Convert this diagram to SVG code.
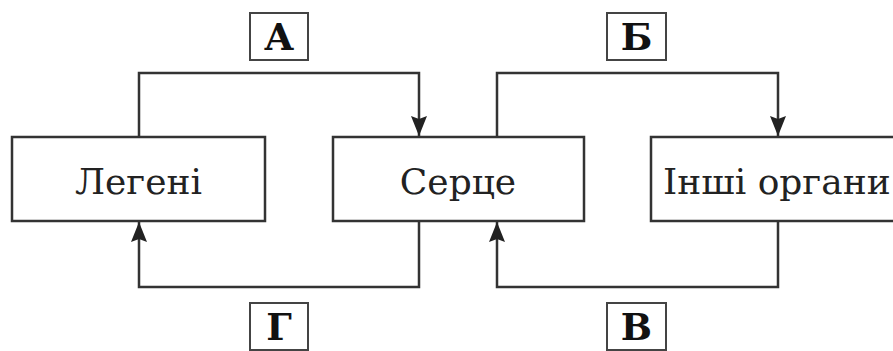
<svg xmlns="http://www.w3.org/2000/svg" width="893" height="351" viewBox="0 0 893 351">
<defs>
<style>
.box{fill:#fff;stroke:#333;stroke-width:2.5}
.lbl{fill:#fff;stroke:#444;stroke-width:2}
.t{font-family:"DejaVu Serif","Liberation Serif",serif;font-size:36px;fill:#222}
.b{font-family:"DejaVu Serif","Liberation Serif",serif;font-size:37px;font-weight:bold;fill:#111;text-anchor:middle}
.c{fill:none;stroke:#333;stroke-width:2.5}
</style>
<marker id="ah" viewBox="0 0 20 16" refX="20" refY="8" markerWidth="20" markerHeight="16" markerUnits="userSpaceOnUse" orient="auto">
<path d="M0,0 L20,8 L0,16 L3,8 Z" fill="#222"/>
</marker>
</defs>
<g id="connectors">
<path class="c" d="M139,137 V73 H419 V136" marker-end="url(#ah)"/>
<path class="c" d="M497,137 V73 H778 V136" marker-end="url(#ah)"/>
<path class="c" d="M419,221 V287 H139 V222" marker-end="url(#ah)"/>
<path class="c" d="M778,221 V287 H497 V222" marker-end="url(#ah)"/>
</g>
<g id="node-lungs">
<rect class="box" x="12" y="137" width="253" height="84"/>
<text class="t" x="138.5" y="194" text-anchor="middle">Легені</text>
</g>
<g id="node-heart">
<rect class="box" x="333" y="137" width="251" height="84"/>
<text class="t" x="458" y="194" text-anchor="middle">Серце</text>
</g>
<g id="node-organs">
<rect class="box" x="651" y="137" width="260" height="84"/>
<text class="t" x="663" y="194">Інші органи</text>
</g>
<g id="label-A">
<rect class="lbl" x="250" y="13" width="58" height="47"/>
<text class="b" x="279" y="50">А</text>
</g>
<g id="label-B">
<rect class="lbl" x="607" y="13" width="59" height="47"/>
<text class="b" x="636.5" y="50">Б</text>
</g>
<g id="label-G">
<rect class="lbl" x="250" y="303" width="58" height="47"/>
<text class="b" x="279" y="340">Г</text>
</g>
<g id="label-V">
<rect class="lbl" x="607" y="303" width="59" height="47"/>
<text class="b" x="636.5" y="340">В</text>
</g>
</svg>
